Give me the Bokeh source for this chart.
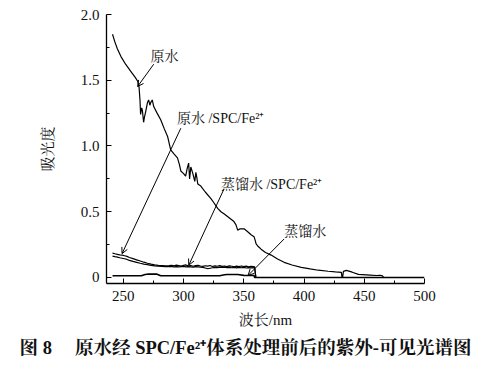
from bokeh.plotting import figure
from bokeh.models import (Range1d, FixedTicker, Label, Arrow, OpenHead, Title)
from bokeh.embed import file_html
from bokeh.resources import INLINE

# ---- data ----
raw_x = [241, 243, 245, 248, 252, 256, 260, 262, 263, 263.8, 264.3, 265.2, 265.8, 266.8, 267.5, 268.5,
         270, 271, 272, 272.7, 274, 275.2, 278, 281, 284, 286.8, 289.3, 292, 294.9, 296.5, 297.7, 300,
         301.7, 303, 304.2, 305, 306, 307.7, 309.3, 310.2, 311, 311.8, 314.3, 318, 322.7, 325, 328.3,
         331, 333.5, 337, 341.8, 343.5, 344.9, 347, 350.2, 353, 356, 358.5, 359.5, 360.2, 362, 364.3,
         368, 372.7, 378, 383.5, 390, 397.7, 405, 411.8, 420, 426, 431, 431.5, 432, 432.7, 435.2, 440,
         445.2, 455, 460, 463, 464.5, 466]
raw_y = [1.85, 1.79, 1.74, 1.68, 1.62, 1.57, 1.52, 1.49, 1.45, 1.35, 1.24, 1.29, 1.27, 1.18, 1.22, 1.26,
         1.33, 1.35, 1.31, 1.33, 1.35, 1.30, 1.25, 1.20, 1.13, 1.07, 0.97, 0.94, 0.91, 0.86, 0.81, 0.79,
         0.77, 0.83, 0.87, 0.75, 0.84, 0.79, 0.73, 0.80, 0.76, 0.71, 0.695, 0.65, 0.60, 0.57, 0.525,
         0.50, 0.485, 0.46, 0.425, 0.40, 0.36, 0.37, 0.37, 0.35, 0.325, 0.31, 0.28, 0.255, 0.235, 0.215,
         0.19, 0.17, 0.14, 0.115, 0.095, 0.077, 0.065, 0.055, 0.047, 0.042, 0.039, 0.0, 0.0, 0.046, 0.054, 0.04,
         0.023, 0.018, 0.015, 0.016, 0.015, 0.005]

dist_x = [241, 265, 268, 270, 278, 281, 300, 330, 334, 336, 345, 350, 358.5, 359, 500]
dist_y = [0.013, 0.013, 0.022, 0.025, 0.025, 0.013, 0.013, 0.013, 0.02, 0.022, 0.022, 0.016, 0.015, 0.0, 0.0]

spc_x = [241, 243, 245, 247, 249, 251, 253, 255, 258, 261, 264, 267, 270, 273, 276, 279, 282, 285, 288,
         290, 292, 294, 296, 298, 300, 302, 304, 306, 308, 310, 312, 314, 316, 318, 320, 322, 324, 326,
         328, 330, 332, 334, 336, 338, 340, 342, 344, 346, 348, 350, 352, 354, 356, 358, 359, 360]
raw_spc_y = [0.185, 0.180, 0.176, 0.172, 0.170, 0.165, 0.160, 0.152, 0.143, 0.134, 0.125, 0.116, 0.108,
             0.101, 0.096, 0.092, 0.090, 0.088, 0.090, 0.093, 0.089, 0.094, 0.091, 0.087, 0.092, 0.095,
             0.088, 0.091, 0.085, 0.090, 0.093, 0.087, 0.084, 0.089, 0.086, 0.091, 0.083, 0.088, 0.085,
             0.090, 0.084, 0.087, 0.082, 0.088, 0.085, 0.080, 0.086, 0.083, 0.087, 0.082, 0.086, 0.081,
             0.084, 0.083, 0.080, 0.0]
dist_spc_y = [0.162, 0.158, 0.155, 0.150, 0.146, 0.142, 0.137, 0.130, 0.122, 0.115, 0.108, 0.102, 0.097,
              0.092, 0.088, 0.086, 0.085, 0.083, 0.082, 0.084, 0.081, 0.083, 0.080, 0.082, 0.084, 0.080,
              0.083, 0.081, 0.079, 0.082, 0.080, 0.078, 0.076, 0.072, 0.066, 0.070, 0.074, 0.077, 0.075,
              0.078, 0.076, 0.079, 0.075, 0.077, 0.074, 0.076, 0.073, 0.077, 0.074, 0.076, 0.072, 0.075,
              0.073, 0.074, 0.071, 0.0]

x_ticks = [250, 300, 350, 400, 450, 500]
x_minor = [275, 325, 375, 425, 475]
y_ticks = [0, 0.5, 1.0, 1.5, 2.0]
y_minor = [0.25, 0.75, 1.25, 1.75]
y_tick_labels = {0: "0", 0.5: "0.5", 1: "1.0", 1.5: "1.5", 2: "2.0"}

# annotations: (text, text_x, text_y, arrow start x, y, arrow end x, y)
notes = [
    ("原水", 272.5, 1.683, 275.2, 1.622, 261.8, 1.452),
    ("原水 /SPC/Fe²⁺", 294.5, 1.212, 297.7, 1.135, 248.9, 0.181),
    ("蒸馏水 /SPC/Fe²⁺", 331.0, 0.71, 333.5, 0.672, 304.3, 0.093),
    ("蒸馏水", 383.5, 0.347, 383.5, 0.293, 353.5, 0.015),
]

FONT = "Liberation Serif, Noto Serif CJK SC, Noto Sans CJK SC"

p = figure(width=482, height=362, output_backend="svg", toolbar_location=None,
           x_range=Range1d(236, 500), y_range=Range1d(-0.046, 2.0),
           min_border_left=106, min_border_right=58, min_border_top=14, min_border_bottom=70)
p.outline_line_color = None
p.xgrid.visible = False
p.ygrid.visible = False
p.background_fill_color = "white"
p.border_fill_color = "white"

for ax in (p.xaxis[0], p.yaxis[0]):
    ax.axis_line_width = 1.3
    ax.axis_line_color = "black"
    ax.major_tick_in = 5
    ax.major_tick_out = 0
    ax.minor_tick_in = 3
    ax.minor_tick_out = 0
    ax.major_tick_line_color = "black"
    ax.minor_tick_line_color = "black"
    ax.major_label_text_font = FONT
    ax.major_label_text_font_size = "15px"
    ax.major_label_text_color = "#111111"
    ax.axis_label_text_font = FONT
    ax.axis_label_text_font_size = "15px"
    ax.axis_label_text_font_style = "normal"
    ax.axis_label_text_color = "#111111"

p.xaxis[0].ticker = FixedTicker(ticks=x_ticks, minor_ticks=x_minor)
p.yaxis[0].ticker = FixedTicker(ticks=y_ticks, minor_ticks=y_minor)
p.yaxis[0].major_label_overrides = y_tick_labels
p.xaxis[0].major_label_standoff = 7
p.yaxis[0].major_label_standoff = 7
p.xaxis[0].axis_label = "波长/nm"
p.yaxis[0].axis_label = "吸光度"
p.xaxis[0].axis_label_standoff = 8
p.yaxis[0].axis_label_standoff = 22

lw = 1.2
p.line(raw_x, raw_y, line_color="black", line_width=lw)
p.line(dist_x, dist_y, line_color="black", line_width=1.6)
p.line(spc_x, raw_spc_y, line_color="black", line_width=lw)
p.line(spc_x, dist_spc_y, line_color="black", line_width=lw)

for txt, tx, ty, x0, y0, x1, y1 in notes:
    p.add_layout(Arrow(end=OpenHead(size=6, line_width=1, line_color="black"),
                       x_start=x0, y_start=y0, x_end=x1, y_end=y1,
                       line_color="black", line_width=1))
    p.add_layout(Label(x=tx, y=ty, text=txt, text_font=FONT, text_font_size="14px",
                       text_baseline="middle", text_align="left", text_color="#111111"))

p.add_layout(Title(text="图 8\u3000 原水经 SPC/Fe²⁺体系处理前后的紫外-可见光谱图", align="left",
                   offset=-87, text_font=FONT, text_font_size="18.5px", text_font_style="bold",
                   text_color="#111111", standoff=10), "below")

open("out.html", "w").write(file_html(p, INLINE))
